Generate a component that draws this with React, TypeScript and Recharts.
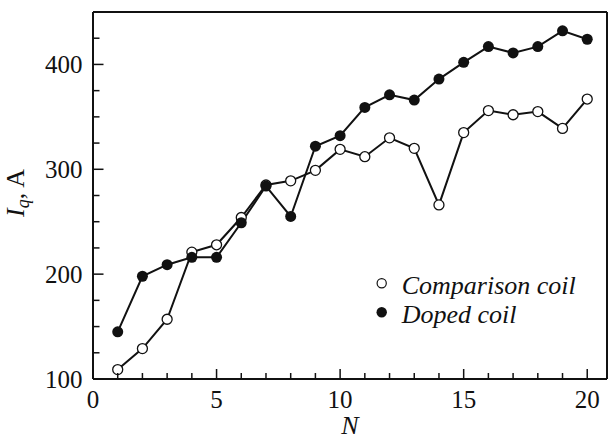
import { LineChart, Line, XAxis, YAxis, Legend } from 'recharts';

const cycles = [1, 2, 3, 4, 5, 6, 7, 8, 9, 10, 11, 12, 13, 14, 15, 16, 17, 18, 19, 20];
const comparisonCoil = [109, 129, 157, 221, 228, 254, 285, 289, 299, 319, 312, 330, 320, 266, 335, 356, 352, 355, 339, 367];
const dopedCoil = [145, 198, 209, 216, 216, 249, 284, 255, 322, 332, 359, 371, 366, 386, 402, 417, 411, 417, 432, 424];

const xTicks = [0, 1, 2, 3, 4, 5, 6, 7, 8, 9, 10, 11, 12, 13, 14, 15, 16, 17, 18, 19, 20];
const yTicks = [100, 125, 150, 175, 200, 225, 250, 275, 300, 325, 350, 375, 400, 425, 450];

const data = cycles.map((n, i) => ({ n, comparison: comparisonCoil[i], doped: dopedCoil[i] }));

const FONT = '"Liberation Serif", "Times New Roman", Times, serif';
const INK = '#111';

function XTick({ x, y, payload }: any) {
  const major = payload.value % 5 === 0;
  return (
    <g>
      <line x1={x} x2={x} y1={y} y2={y - (major ? 10 : 6)} stroke={INK} strokeWidth={1.5} />
      {major && (
        <text x={x} y={y + 29} textAnchor="middle" style={{ fontFamily: FONT, fontSize: 25 }} fill={INK}>
          {payload.value}
        </text>
      )}
    </g>
  );
}

function YTick({ x, y, payload }: any) {
  const major = payload.value % 100 === 0;
  return (
    <g>
      <line x1={x} x2={x + (major ? 10.5 : 6.5)} y1={y} y2={y} stroke={INK} strokeWidth={1.5} />
      {major && payload.value < 450 && (
        <text x={x - 10.5} y={y + 9} textAnchor="end" style={{ fontFamily: FONT, fontSize: 25 }} fill={INK}>
          {payload.value}
        </text>
      )}
    </g>
  );
}

const OpenDot = (props: any) => (
  <circle key={props.index} cx={props.cx} cy={props.cy} r={5} fill="#fff" stroke={INK} strokeWidth={1.3} />
);

const FilledDot = (props: any) => (
  <circle key={props.index} cx={props.cx} cy={props.cy} r={5.5} fill={INK} stroke="none" />
);

function LegendBox() {
  const txt = { fontFamily: FONT, fontStyle: 'italic', fontSize: 26 } as const;
  return (
    <svg width={240} height={70} style={{ overflow: 'visible', display: 'block' }}>
      <circle cx={11.7} cy={18.3} r={4.6} fill="#fff" stroke={INK} strokeWidth={1.2} />
      <text x={31.7} y={29} style={txt} fill={INK}>
        Comparison coil
      </text>
      <circle cx={11.7} cy={47.3} r={5.2} fill={INK} />
      <text x={31.7} y={57.7} style={txt} fill={INK}>
        Doped coil
      </text>
    </svg>
  );
}

const yLabel = () => (
  <text
    x={23.5}
    y={193}
    transform="rotate(-90, 23.5, 193)"
    textAnchor="middle"
    style={{ fontFamily: FONT, fontSize: 26 }}
    fill={INK}
  >
    <tspan fontStyle="italic">I</tspan>
    <tspan fontStyle="italic" fontSize={18} dy={5}>q</tspan>
    <tspan dy={-5}>, A</tspan>
  </text>
);

const xLabel = () => (
  <text x={350} y={434} textAnchor="middle" style={{ fontFamily: FONT, fontStyle: 'italic', fontSize: 26 }} fill={INK}>
    N
  </text>
);

export default function App() {
  return (
    <div style={{ width: 609, height: 440, background: '#fff' }}>
      <style>{'body{margin:0}'}</style>
      <LineChart width={609} height={440} data={data} margin={{ top: 11, right: 1, bottom: 0, left: 0 }}>
        <XAxis
          dataKey="n"
          type="number"
          domain={[0, 20.8]}
          allowDataOverflow
          ticks={xTicks}
          interval={0}
          tickSize={0}
          tickMargin={0}
          tickLine={false}
          tick={<XTick />}
          height={61}
          axisLine={{ stroke: INK, strokeWidth: 2 }}
          label={{ content: xLabel }}
        />
        <XAxis
          xAxisId="top"
          orientation="top"
          type="number"
          domain={[0, 20.8]}
          height={1}
          tick={false}
          tickLine={false}
          axisLine={{ stroke: INK, strokeWidth: 2 }}
        />
        <YAxis
          type="number"
          domain={[100, 450]}
          allowDataOverflow
          ticks={yTicks}
          interval={0}
          tickSize={0}
          tickMargin={0}
          tickLine={false}
          tick={<YTick />}
          width={93}
          axisLine={{ stroke: INK, strokeWidth: 2 }}
          label={{ content: yLabel }}
        />
        <YAxis
          yAxisId="right"
          orientation="right"
          type="number"
          domain={[100, 450]}
          width={1}
          tick={false}
          tickLine={false}
          axisLine={{ stroke: INK, strokeWidth: 2 }}
        />
        <Legend
          content={() => <LegendBox />}
          wrapperStyle={{ left: 370, top: 265, width: 0, height: 0, bottom: 'auto', overflow: 'visible' }}
        />
        <Line
          type="linear"
          dataKey="comparison"
          stroke={INK}
          strokeWidth={2}
          dot={OpenDot}
          activeDot={false}
          isAnimationActive={false}
        />
        <Line
          type="linear"
          dataKey="doped"
          stroke={INK}
          strokeWidth={2}
          dot={FilledDot}
          activeDot={false}
          isAnimationActive={false}
        />
      </LineChart>
    </div>
  );
}
